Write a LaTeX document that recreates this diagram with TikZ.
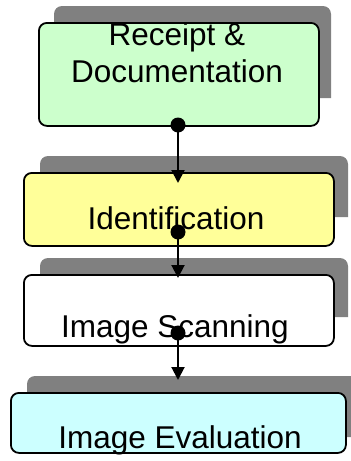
\documentclass[tikz,border=0pt]{standalone}
\usepackage{fontspec}
\setmainfont{Liberation Sans}
\usetikzlibrary{arrows.meta}
\definecolor{shadowgray}{HTML}{808080}
\definecolor{stepgreen}{HTML}{CCFFCC}
\definecolor{stepyellow}{HTML}{FFFF99}
\definecolor{stepcyan}{HTML}{CCFFFF}
\tikzset{
  stepbox/.style={draw=black, line width=1.8pt, rounded corners=8pt, inner sep=0pt, anchor=north west},
  steplabel/.style={inner sep=0pt, anchor=base, align=center, font=\fontsize{31.5}{37}\selectfont},
  backshadow/.style={fill=shadowgray},
  flow/.style={line width=2pt, -{Triangle[width=13pt,length=13pt]}},
  joint/.style={fill=black}
}
\begin{document}
\begin{tikzpicture}[x=1pt,y=-1pt]
\useasboundingbox (0,0) rectangle (351,461);

% shadows behind each step (rounded top corners only)
\fill[backshadow] (54,98) [rounded corners=8pt] -- (54,6) -- (331,6) [sharp corners] -- (331,98) -- cycle;
\fill[backshadow] (40,217) [rounded corners=8pt] -- (40,156) -- (348,156) [sharp corners] -- (348,217) -- cycle;
\fill[backshadow] (40,317) [rounded corners=8pt] -- (40,258) -- (348,258) [sharp corners] -- (348,317) -- cycle;
\fill[backshadow] (27,437) [rounded corners=8pt] -- (27,376) -- (358,376) [sharp corners] -- (358,437) -- cycle;

% step boxes
\node[stepbox, fill=stepgreen,  minimum width=280pt, minimum height=103pt] (receipt) at (38,22) {};
\node[stepbox, fill=stepyellow, minimum width=310pt, minimum height=73pt]  (ident)   at (23,172) {};
\node[stepbox, fill=white,      minimum width=310pt, minimum height=71pt]  (scan)    at (23,274) {};
\node[stepbox, fill=stepcyan,   minimum width=335pt, minimum height=60pt]  (eval)    at (10,392) {};

% labels (base anchor of a two-line label is its last line)
\node[steplabel] (receiptlbl) at (177,82) {Receipt \&\\Documentation};
\node[steplabel] (identlbl)   at (176,229) {Identification};
\node[steplabel] (scanlbl)    at (175,337) {Image Scanning};
\node[steplabel] (evallbl)    at (180,448) {Image Evaluation};

% connector ends
\coordinate (j1) at (178,125);
\coordinate (t1) at (178,183);
\coordinate (j2) at (178,232);
\coordinate (t2) at (178,278);
\coordinate (j3) at (178,333);
\coordinate (t3) at (178,380);

\draw[flow] (j1) -- (t1);
\draw[flow] (j2) -- (t2);
\draw[flow] (j3) -- (t3);
\fill[joint] (j1) circle (7.5pt);
\fill[joint] (j2) circle (7.5pt);
\fill[joint] (j3) circle (7.5pt);
\end{tikzpicture}
\end{document}
